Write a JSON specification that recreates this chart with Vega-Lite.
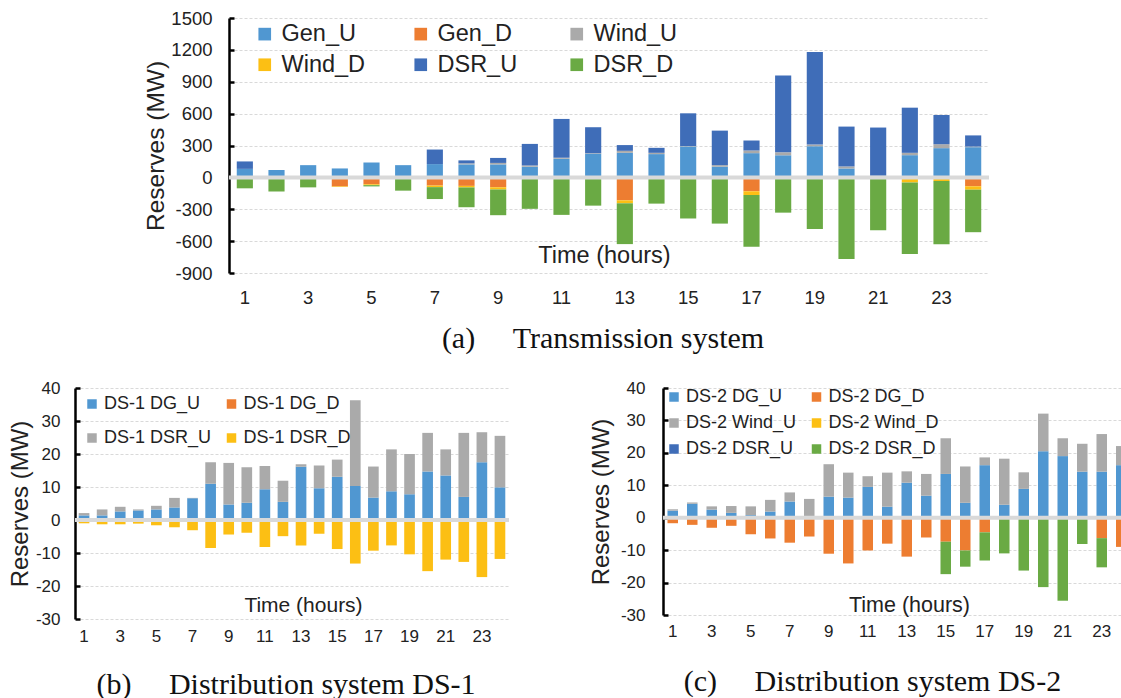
{
  "$schema": "https://vega.github.io/schema/vega-lite/v6.json",
  "padding": {"left": 8, "top": 9, "right": 0, "bottom": 0},
  "background": "white",
  "config": {
    "view": {"stroke": null},
    "font": "Liberation Sans",
    "axis": {"gridColor": "#d9d9d9", "gridDash": [3, 2], "gridWidth": 1, "labelColor": "#222", "titleColor": "#222", "titleFontWeight": "normal", "domainColor": "#000", "labelFont": "Liberation Sans", "titleFont": "Liberation Sans", "labelOverlap": false},
    "legend": {"labelFont": "Liberation Sans", "labelColor": "#222", "symbolType": "square", "symbolStrokeWidth": 0, "padding": 0, "gridAlign": "all", "title": null},
    "title": {"font": "Liberation Serif", "fontWeight": "normal", "color": "#111"}
  },
  "datasets": {
    "R": [
      {"s": "Gen_U", "r": 1}, {"s": "Gen_D", "r": 2}, {"s": "Wind_U", "r": 3}, {"s": "Wind_D", "r": 4}, {"s": "DSR_U", "r": 5}, {"s": "DSR_D", "r": 6},
      {"s": "DS-1 DG_U", "r": 1}, {"s": "DS-1 DG_D", "r": 2}, {"s": "DS-1 DSR_U", "r": 3}, {"s": "DS-1 DSR_D", "r": 4},
      {"s": "DS-2 DG_U", "r": 1}, {"s": "DS-2 DG_D", "r": 2}, {"s": "DS-2 Wind_U", "r": 3}, {"s": "DS-2 Wind_D", "r": 4}, {"s": "DS-2 DSR_U", "r": 5}, {"s": "DS-2 DSR_D", "r": 6}
    ],
    "T": [
      {"h": 1, "Gen_U": 80, "Gen_D": 0, "Wind_U": 0, "Wind_D": 0, "DSR_U": 70, "DSR_D": -103},
      {"h": 2, "Gen_U": 69, "Gen_D": -5, "Wind_U": 0, "Wind_D": 0, "DSR_U": 0, "DSR_D": -128},
      {"h": 3, "Gen_U": 115, "Gen_D": 0, "Wind_U": 0, "Wind_D": 0, "DSR_U": 0, "DSR_D": -94},
      {"h": 4, "Gen_U": 84, "Gen_D": -85, "Wind_U": 0, "Wind_D": -5, "DSR_U": 0, "DSR_D": 0},
      {"h": 5, "Gen_U": 140, "Gen_D": -65, "Wind_U": 0, "Wind_D": -8, "DSR_U": 0, "DSR_D": -12},
      {"h": 6, "Gen_U": 115, "Gen_D": 0, "Wind_U": 0, "Wind_D": 0, "DSR_U": 0, "DSR_D": -125},
      {"h": 7, "Gen_U": 125, "Gen_D": -77, "Wind_U": 0, "Wind_D": -15, "DSR_U": 137, "DSR_D": -112},
      {"h": 8, "Gen_U": 122, "Gen_D": -80, "Wind_U": 10, "Wind_D": -15, "DSR_U": 28, "DSR_D": -186},
      {"h": 9, "Gen_U": 122, "Gen_D": -93, "Wind_U": 14, "Wind_D": -21, "DSR_U": 47, "DSR_D": -242},
      {"h": 10, "Gen_U": 100, "Gen_D": 0, "Wind_U": 12, "Wind_D": 0, "DSR_U": 203, "DSR_D": -296},
      {"h": 11, "Gen_U": 175, "Gen_D": 0, "Wind_U": 10, "Wind_D": -8, "DSR_U": 365, "DSR_D": -345},
      {"h": 12, "Gen_U": 222, "Gen_D": 0, "Wind_U": 5, "Wind_D": 0, "DSR_U": 245, "DSR_D": -266},
      {"h": 13, "Gen_U": 231, "Gen_D": -216, "Wind_U": 19, "Wind_D": -28, "DSR_U": 54, "DSR_D": -384},
      {"h": 14, "Gen_U": 219, "Gen_D": 0, "Wind_U": 12, "Wind_D": -9, "DSR_U": 47, "DSR_D": -238},
      {"h": 15, "Gen_U": 291, "Gen_D": 0, "Wind_U": 4, "Wind_D": -12, "DSR_U": 308, "DSR_D": -375},
      {"h": 16, "Gen_U": 100, "Gen_D": 0, "Wind_U": 15, "Wind_D": 0, "DSR_U": 325, "DSR_D": -435},
      {"h": 17, "Gen_U": 228, "Gen_D": -131, "Wind_U": 25, "Wind_D": -35, "DSR_U": 94, "DSR_D": -487},
      {"h": 18, "Gen_U": 208, "Gen_D": 0, "Wind_U": 28, "Wind_D": 0, "DSR_U": 723, "DSR_D": -332},
      {"h": 19, "Gen_U": 293, "Gen_D": 0, "Wind_U": 16, "Wind_D": -5, "DSR_U": 872, "DSR_D": -480},
      {"h": 20, "Gen_U": 84, "Gen_D": 0, "Wind_U": 19, "Wind_D": -14, "DSR_U": 375, "DSR_D": -755},
      {"h": 21, "Gen_U": 15, "Gen_D": 0, "Wind_U": 0, "Wind_D": 0, "DSR_U": 454, "DSR_D": -498},
      {"h": 22, "Gen_U": 209, "Gen_D": 0, "Wind_U": 22, "Wind_D": -48, "DSR_U": 425, "DSR_D": -672},
      {"h": 23, "Gen_U": 275, "Gen_D": 0, "Wind_U": 37, "Wind_D": -34, "DSR_U": 275, "DSR_D": -596},
      {"h": 24, "Gen_U": 284, "Gen_D": -84, "Wind_U": 6, "Wind_D": -32, "DSR_U": 105, "DSR_D": -400}
    ],
    "B": [
      {"h": 1, "DS-1 DG_U": 1.4, "DS-1 DSR_U": 0.7, "DS-1 DSR_D": -1.0},
      {"h": 2, "DS-1 DG_U": 1.4, "DS-1 DSR_U": 1.8, "DS-1 DSR_D": -1.3},
      {"h": 3, "DS-1 DG_U": 2.6, "DS-1 DSR_U": 1.4, "DS-1 DSR_D": -1.3},
      {"h": 4, "DS-1 DG_U": 2.9, "DS-1 DSR_U": 0.3, "DS-1 DSR_D": -1.1},
      {"h": 5, "DS-1 DG_U": 3.2, "DS-1 DSR_U": 1.1, "DS-1 DSR_D": -1.6},
      {"h": 6, "DS-1 DG_U": 3.8, "DS-1 DSR_U": 2.9, "DS-1 DSR_D": -2.2},
      {"h": 7, "DS-1 DG_U": 6.6, "DS-1 DSR_U": 0.1, "DS-1 DSR_D": -3.1},
      {"h": 8, "DS-1 DG_U": 11.0, "DS-1 DSR_U": 6.5, "DS-1 DSR_D": -8.5},
      {"h": 9, "DS-1 DG_U": 4.7, "DS-1 DSR_U": 12.6, "DS-1 DSR_D": -4.4},
      {"h": 10, "DS-1 DG_U": 5.2, "DS-1 DSR_U": 10.8, "DS-1 DSR_D": -3.9},
      {"h": 11, "DS-1 DG_U": 9.3, "DS-1 DSR_U": 7.1, "DS-1 DSR_D": -8.2},
      {"h": 12, "DS-1 DG_U": 5.5, "DS-1 DSR_U": 6.4, "DS-1 DSR_D": -4.9},
      {"h": 13, "DS-1 DG_U": 16.1, "DS-1 DSR_U": 0.8, "DS-1 DSR_D": -7.7},
      {"h": 14, "DS-1 DG_U": 9.6, "DS-1 DSR_U": 6.9, "DS-1 DSR_D": -4.2},
      {"h": 15, "DS-1 DG_U": 13.1, "DS-1 DSR_U": 5.2, "DS-1 DSR_D": -8.8},
      {"h": 16, "DS-1 DG_U": 10.3, "DS-1 DSR_U": 26.0, "DS-1 DSR_D": -13.2},
      {"h": 17, "DS-1 DG_U": 6.8, "DS-1 DSR_U": 9.4, "DS-1 DSR_D": -9.3},
      {"h": 18, "DS-1 DG_U": 8.7, "DS-1 DSR_U": 12.7, "DS-1 DSR_D": -7.7},
      {"h": 19, "DS-1 DG_U": 7.8, "DS-1 DSR_U": 12.2, "DS-1 DSR_D": -10.4},
      {"h": 20, "DS-1 DG_U": 14.7, "DS-1 DSR_U": 11.7, "DS-1 DSR_D": -15.5},
      {"h": 21, "DS-1 DG_U": 13.5, "DS-1 DSR_U": 7.9, "DS-1 DSR_D": -12.0},
      {"h": 22, "DS-1 DG_U": 7.0, "DS-1 DSR_U": 19.4, "DS-1 DSR_D": -12.7},
      {"h": 23, "DS-1 DG_U": 17.5, "DS-1 DSR_U": 9.1, "DS-1 DSR_D": -17.3},
      {"h": 24, "DS-1 DG_U": 9.9, "DS-1 DSR_U": 15.6, "DS-1 DSR_D": -11.8}
    ],
    "C": [
      {"h": 1, "DS-2 DG_U": 2.2, "DS-2 Wind_U": 0.4, "DS-2 DG_D": -1.7, "DS-2 DSR_D": 0},
      {"h": 2, "DS-2 DG_U": 4.3, "DS-2 Wind_U": 0.4, "DS-2 DG_D": -2.2, "DS-2 DSR_D": 0},
      {"h": 3, "DS-2 DG_U": 2.5, "DS-2 Wind_U": 1.0, "DS-2 DG_D": -3.1, "DS-2 DSR_D": 0},
      {"h": 4, "DS-2 DG_U": 1.5, "DS-2 Wind_U": 2.1, "DS-2 DG_D": -2.5, "DS-2 DSR_D": 0},
      {"h": 5, "DS-2 DG_U": 0.8, "DS-2 Wind_U": 2.7, "DS-2 DG_D": -5.1, "DS-2 DSR_D": 0},
      {"h": 6, "DS-2 DG_U": 1.9, "DS-2 Wind_U": 3.6, "DS-2 DG_D": -6.4, "DS-2 DSR_D": 0},
      {"h": 7, "DS-2 DG_U": 5.0, "DS-2 Wind_U": 2.8, "DS-2 DG_D": -7.7, "DS-2 DSR_D": 0},
      {"h": 8, "DS-2 DG_U": 0, "DS-2 Wind_U": 5.8, "DS-2 DG_D": -5.8, "DS-2 DSR_D": 0},
      {"h": 9, "DS-2 DG_U": 6.5, "DS-2 Wind_U": 10.0, "DS-2 DG_D": -11.1, "DS-2 DSR_D": 0},
      {"h": 10, "DS-2 DG_U": 6.2, "DS-2 Wind_U": 7.7, "DS-2 DG_D": -14.1, "DS-2 DSR_D": 0},
      {"h": 11, "DS-2 DG_U": 9.5, "DS-2 Wind_U": 3.3, "DS-2 DG_D": -10.1, "DS-2 DSR_D": 0},
      {"h": 12, "DS-2 DG_U": 3.4, "DS-2 Wind_U": 10.5, "DS-2 DG_D": -8.0, "DS-2 DSR_D": 0},
      {"h": 13, "DS-2 DG_U": 10.8, "DS-2 Wind_U": 3.5, "DS-2 DG_D": -12.0, "DS-2 DSR_D": 0},
      {"h": 14, "DS-2 DG_U": 6.8, "DS-2 Wind_U": 6.7, "DS-2 DG_D": -6.1, "DS-2 DSR_D": 0},
      {"h": 15, "DS-2 DG_U": 13.5, "DS-2 Wind_U": 11.0, "DS-2 DG_D": -7.4, "DS-2 DSR_D": -10.0},
      {"h": 16, "DS-2 DG_U": 4.6, "DS-2 Wind_U": 11.2, "DS-2 DG_D": -10.1, "DS-2 DSR_D": -5.0},
      {"h": 17, "DS-2 DG_U": 16.2, "DS-2 Wind_U": 2.4, "DS-2 DG_D": -4.5, "DS-2 DSR_D": -8.7},
      {"h": 18, "DS-2 DG_U": 4.0, "DS-2 Wind_U": 14.2, "DS-2 DG_D": 0, "DS-2 DSR_D": -11.0},
      {"h": 19, "DS-2 DG_U": 8.9, "DS-2 Wind_U": 5.1, "DS-2 DG_D": 0, "DS-2 DSR_D": -16.3},
      {"h": 20, "DS-2 DG_U": 20.5, "DS-2 Wind_U": 11.6, "DS-2 DG_D": 0, "DS-2 DSR_D": -21.4},
      {"h": 21, "DS-2 DG_U": 19.0, "DS-2 Wind_U": 5.5, "DS-2 DG_D": 0, "DS-2 DSR_D": -25.6},
      {"h": 22, "DS-2 DG_U": 14.2, "DS-2 Wind_U": 8.6, "DS-2 DG_D": 0, "DS-2 DSR_D": -8.1},
      {"h": 23, "DS-2 DG_U": 14.2, "DS-2 Wind_U": 11.6, "DS-2 DG_D": -6.3, "DS-2 DSR_D": -9.0},
      {"h": 24, "DS-2 DG_U": 16.2, "DS-2 Wind_U": 5.9, "DS-2 DG_D": -9.0, "DS-2 DSR_D": 0}
    ]
  },
  "spacing": 25,
  "resolve": {"scale": {"color": "independent"}, "legend": {"color": "independent"}},
  "vconcat": [
    {
      "bounds": "flush",
      "spacing": 10,
      "resolve": {"scale": {"color": "independent"}, "legend": {"color": "independent"}},
      "hconcat": [
        {
          "width": 144,
          "height": 1,
          "data": {"values": [{}]},
          "mark": {"type": "text"},
          "encoding": {}
        },
        {
          "width": 760,
          "height": 255,
          "title": {"text": "(a)\u00a0\u00a0\u00a0\u00a0\u00a0Transmission system", "orient": "bottom", "fontSize": 30, "offset": 17, "dx": -6, "anchor": "middle"},
          "layer": [
            {
              "data": {"name": "T"},
              "transform": [
                {"fold": ["Gen_U", "Gen_D", "Wind_U", "Wind_D", "DSR_U", "DSR_D"], "as": ["s", "v"]},
                {"lookup": "s", "from": {"data": {"name": "R"}, "key": "s", "fields": ["r"]}}
              ],
              "mark": {"type": "bar"},
              "encoding": {
                "x": {
                  "field": "h", "type": "ordinal",
                  "scale": {"paddingInner": 0.49, "paddingOuter": 0.245},
                  "axis": {"values": [1, 3, 5, 7, 9, 11, 13, 15, 17, 19, 21, 23], "domain": false, "ticks": false, "grid": false, "labelAngle": 0, "labelFontSize": 18.5, "labelPadding": 15, "title": "Time (hours)", "titleFontSize": 23.5, "titleX": 375, "titleY": -11, "titleBaseline": "alphabetic", "titleAlign": "center"}
                },
                "y": {
                  "field": "v", "type": "quantitative",
                  "scale": {"domain": [-900, 1500], "nice": false, "zero": false},
                  "axis": {"values": [-900, -600, -300, 0, 300, 600, 900, 1200, 1500], "tickCount": 20, "labelExpr": "'' + datum.value", "labelOverlap": false, "grid": true, "domain": true, "domainWidth": 2.5, "ticks": true, "tickColor": "#000", "tickSize": -5, "tickWidth": 2.5, "labelFontSize": 18.5, "labelPadding": 22, "title": "Reserves (MW)", "titleFontSize": 24.5, "titlePadding": 2}
                },
                "order": {"field": "r", "type": "quantitative"},
                "color": {
                  "field": "s", "type": "nominal",
                  "scale": {"domain": ["Gen_U", "Gen_D", "Wind_U", "Wind_D", "DSR_U", "DSR_D"], "range": ["#5097d1", "#ed7d31", "#aaaaaa", "#fcbf14", "#3f6db8", "#6aaa44"]},
                  "legend": {"orient": "none", "legendX": 24, "legendY": 4, "columns": 3, "direction": "horizontal", "symbolSize": 160, "labelFontSize": 23.5, "labelOffset": 5, "columnPadding": 43, "rowPadding": 6}
                }
              }
            },
            {
              "data": {"values": [{"v": 0}]},
              "mark": {"type": "rule", "color": "#d9d9d9", "strokeWidth": 4},
              "encoding": {"y": {"field": "v", "type": "quantitative"}}
            }
          ]
        }
      ]
    },
    {
      "bounds": "flush",
      "spacing": 154,
      "resolve": {"scale": {"color": "independent"}, "legend": {"color": "independent"}},
      "hconcat": [
        {
          "width": 434,
          "height": 231,
          "title": {"text": "(b)\u00a0\u00a0\u00a0\u00a0\u00a0Distribution system DS-1", "orient": "bottom", "fontSize": 30, "offset": 26, "dx": -6, "anchor": "middle"},
          "layer": [
            {
              "data": {"name": "B"},
              "transform": [
                {"fold": ["DS-1 DG_U", "DS-1 DSR_U", "DS-1 DSR_D"], "as": ["s", "v"]},
                {"lookup": "s", "from": {"data": {"name": "R"}, "key": "s", "fields": ["r"]}}
              ],
              "mark": {"type": "bar"},
              "encoding": {
                "x": {
                  "field": "h", "type": "ordinal",
                  "scale": {"paddingInner": 0.41, "paddingOuter": 0.205},
                  "axis": {"values": [1, 3, 5, 7, 9, 11, 13, 15, 17, 19, 21, 23], "domain": false, "ticks": false, "grid": false, "labelAngle": 0, "labelFontSize": 17, "labelPadding": 9, "title": "Time (hours)", "titleFontSize": 21, "titleX": 228, "titleY": -8, "titleBaseline": "alphabetic", "titleAlign": "center"}
                },
                "y": {
                  "field": "v", "type": "quantitative",
                  "scale": {"domain": [-30, 40], "nice": false, "zero": false},
                  "axis": {"values": [-30, -20, -10, 0, 10, 20, 30, 40], "tickCount": 20, "labelExpr": "'' + datum.value", "labelOverlap": false, "grid": true, "domain": true, "domainWidth": 2.5, "ticks": true, "tickColor": "#000", "tickSize": -5, "tickWidth": 2.5, "labelFontSize": 17, "labelPadding": 20, "title": "Reserves (MW)", "titleFontSize": 24, "titlePadding": 3}
                },
                "order": {"field": "r", "type": "quantitative"},
                "color": {
                  "field": "s", "type": "nominal",
                  "scale": {"domain": ["DS-1 DG_U", "DS-1 DG_D", "DS-1 DSR_U", "DS-1 DSR_D"], "range": ["#5097d1", "#ed7d31", "#aaaaaa", "#fcbf14"]},
                  "legend": {"orient": "none", "legendX": 8, "legendY": 7, "columns": 2, "direction": "horizontal", "symbolSize": 90, "labelFontSize": 18, "labelOffset": 3, "columnPadding": 10.5, "rowPadding": 16}
                }
              }
            },
            {
              "data": {"values": [{"v": 0}]},
              "mark": {"type": "rule", "color": "#d9d9d9", "strokeWidth": 4},
              "encoding": {"y": {"field": "v", "type": "quantitative"}}
            }
          ]
        },
        {
          "width": 459,
          "height": 227,
          "title": {"text": "(c)\u00a0\u00a0\u00a0\u00a0\u00a0Distribution system DS-2", "orient": "bottom", "fontSize": 30, "offset": 28, "dx": -20, "anchor": "middle"},
          "layer": [
            {
              "data": {"name": "C"},
              "transform": [
                {"fold": ["DS-2 DG_U", "DS-2 DG_D", "DS-2 Wind_U", "DS-2 DSR_D"], "as": ["s", "v"]},
                {"lookup": "s", "from": {"data": {"name": "R"}, "key": "s", "fields": ["r"]}}
              ],
              "mark": {"type": "bar", "clip": true},
              "encoding": {
                "x": {
                  "field": "h", "type": "ordinal",
                  "scale": {"paddingInner": 0.46, "paddingOuter": 0.23, "range": [0, 468]},
                  "axis": {"values": [1, 3, 5, 7, 9, 11, 13, 15, 17, 19, 21, 23], "domain": false, "ticks": false, "grid": false, "labelAngle": 0, "labelFontSize": 17, "labelPadding": 8, "title": "Time (hours)", "titleFontSize": 21.5, "titleX": 246, "titleY": -4, "titleBaseline": "alphabetic", "titleAlign": "center"}
                },
                "y": {
                  "field": "v", "type": "quantitative",
                  "scale": {"domain": [-30, 40], "nice": false, "zero": false},
                  "axis": {"values": [-30, -20, -10, 0, 10, 20, 30, 40], "tickCount": 20, "labelExpr": "'' + datum.value", "labelOverlap": false, "grid": true, "domain": true, "domainWidth": 2.5, "ticks": true, "tickColor": "#000", "tickSize": -5, "tickWidth": 2.5, "labelFontSize": 17, "labelPadding": 23, "title": "Reserves (MW)", "titleFontSize": 24, "titlePadding": 7}
                },
                "order": {"field": "r", "type": "quantitative"},
                "color": {
                  "field": "s", "type": "nominal",
                  "scale": {"domain": ["DS-2 DG_U", "DS-2 DG_D", "DS-2 Wind_U", "DS-2 Wind_D", "DS-2 DSR_U", "DS-2 DSR_D"], "range": ["#5097d1", "#ed7d31", "#aaaaaa", "#fcbf14", "#3f6db8", "#6aaa44"]},
                  "legend": {"orient": "none", "legendX": 2, "legendY": 0, "columns": 2, "direction": "horizontal", "symbolSize": 90, "labelFontSize": 18, "labelOffset": 3, "columnPadding": 10.5, "rowPadding": 8}
                }
              }
            },
            {
              "data": {"values": [{"v": 0}]},
              "mark": {"type": "rule", "color": "#d9d9d9", "strokeWidth": 4},
              "encoding": {"y": {"field": "v", "type": "quantitative"}}
            }
          ]
        }
      ]
    }
  ]
}
